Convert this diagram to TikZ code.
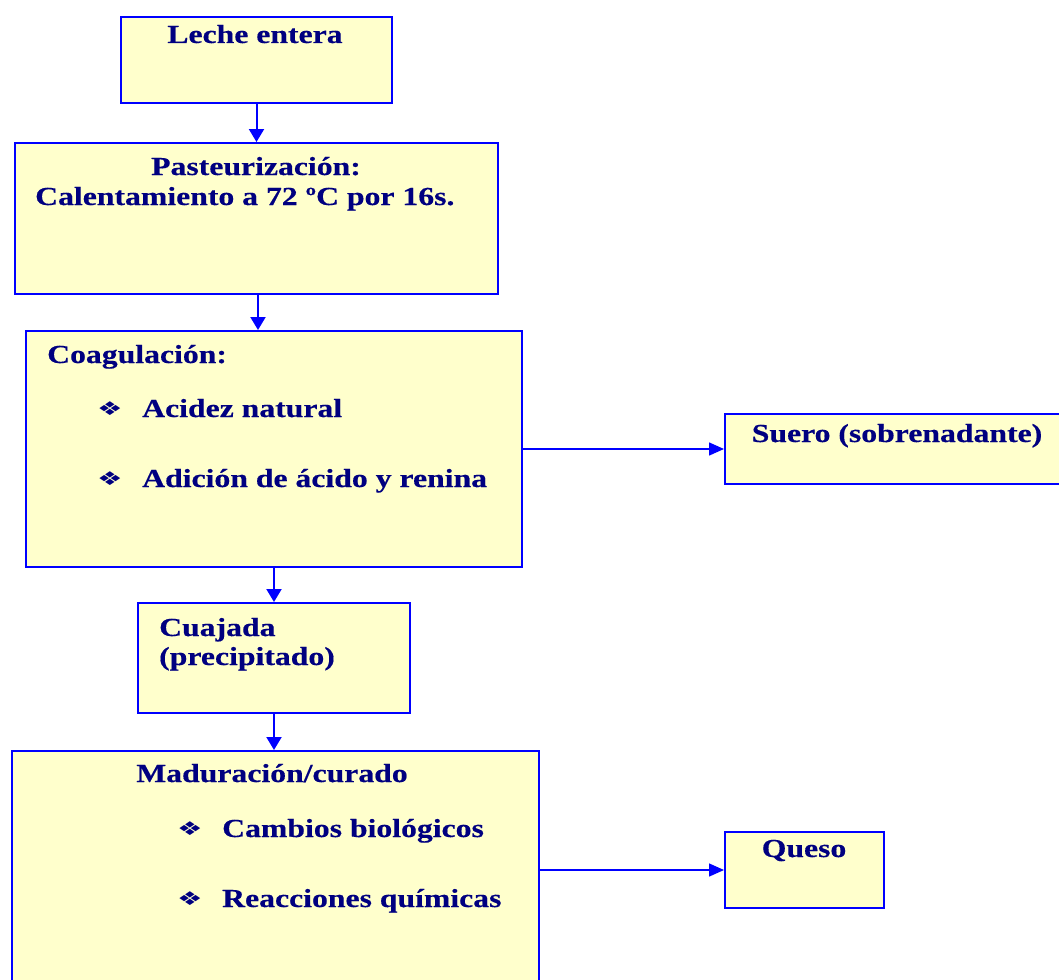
\documentclass[tikz,border=0pt]{standalone}
\usepackage{fontspec}
\setmainfont{Liberation Serif}[FakeStretch=1.22, BoldFeatures={FakeBold=0.4}]
\newfontfamily\symfont{DejaVu Sans}[FakeStretch=1.5]
\usetikzlibrary{arrows.meta}
\definecolor{boxfill}{HTML}{FFFFCC}
\definecolor{boxline}{HTML}{0000FF}
\definecolor{txt}{HTML}{000080}
\tikzset{
  box/.style={draw=boxline, fill=boxfill, line width=2pt, inner sep=0pt, anchor=north west},
  lbl/.style={text=txt, inner sep=0pt, font=\fontsize{26}{31}\selectfont\bfseries},
  bul/.style={text=txt, inner sep=0pt, anchor=base west, font=\fontsize{19}{22}\symfont},
  flow/.style={draw=boxline, line width=2pt, -{Triangle[length=13pt,width=15pt]}},
  side/.style={draw=boxline, line width=1.5pt, -{Triangle[length=15pt,width=13pt]}}
}
\begin{document}
\begin{tikzpicture}[x=1pt, y=-1pt]
\useasboundingbox (0,0) rectangle (1059,979);

% process boxes
\node[box, minimum width=271pt, minimum height=86pt]  (leche)   at (120,16)  {};
\node[box, minimum width=483pt, minimum height=151pt] (pasteur) at (14,142)  {};
\node[box, minimum width=496pt, minimum height=236pt] (coag)    at (25,330)  {};
\node[box, minimum width=338pt, minimum height=70pt]  (suero)   at (724,413) {};
\node[box, minimum width=272pt, minimum height=110pt] (cuaj)    at (137,602) {};
\node[box, minimum width=527pt, minimum height=240pt] (madur)   at (11,750)  {};
\node[box, minimum width=159pt, minimum height=76pt]  (queso)   at (724,831) {};

% texts
\node[lbl, anchor=base] (t1) at (255,43) {Leche entera};
\node[lbl, anchor=base] (t2) at (256,175) {Pasteurización:};
\node[lbl, anchor=base west] (t3) at (35,205) {Calentamiento a 72 ºC por 16s.};
\node[lbl, anchor=base west] (t4) at (47,363) {Coagulación:};
\node[bul] (b1) at (97,415) {❖};
\node[lbl, anchor=base west] (t5) at (142,417) {Acidez natural};
\node[bul] (b2) at (97,485) {❖};
\node[lbl, anchor=base west] (t6) at (142,487) {Adición de ácido y renina};
\node[lbl, anchor=base] (t7) at (897,442) {Suero (sobrenadante)};
\node[lbl, anchor=base west] (t8) at (159,636) {Cuajada};
\node[lbl, anchor=base west] (t9) at (159,665) {(precipitado)};
\node[lbl, anchor=base] (t10) at (272,782) {Maduración/curado};
\node[bul] (b3) at (177,835) {❖};
\node[lbl, anchor=base west] (t11) at (222,837) {Cambios biológicos};
\node[bul] (b4) at (177,905) {❖};
\node[lbl, anchor=base west] (t12) at (222,907) {Reacciones químicas};
\node[lbl, anchor=base] (t13) at (804,857) {Queso};

% connectors
\draw[flow] (leche.south) -- (pasteur.north);
\draw[flow] ([xshift=1.5pt]pasteur.south) -- ([xshift=1.5pt]pasteur.south |- coag.north);
\draw[flow] (coag.south) -- (cuaj.north);
\draw[flow] (cuaj.south) -- (cuaj.south |- madur.north);
\draw[side] (coag.east) -- (coag.east -| suero.west);
\draw[side] (queso.west -| madur.east) -- (queso.west);
\end{tikzpicture}
\end{document}
